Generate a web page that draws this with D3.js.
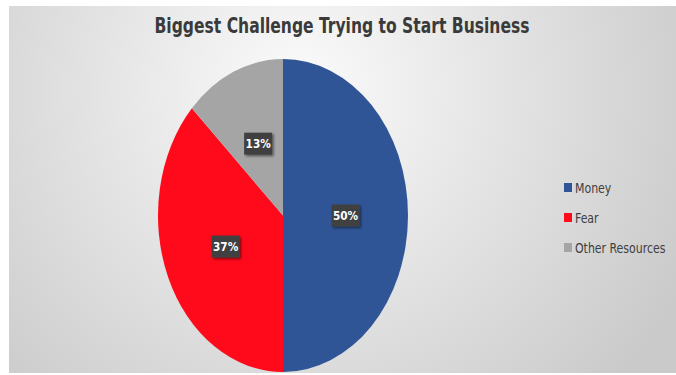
<!DOCTYPE html>
<html>
<head>
<meta charset="utf-8">
<script src="https://cdn.jsdelivr.net/npm/d3@7"></script>
<style>
  html, body { margin: 0; padding: 0; background: #fff; }
  svg { display: block; }
  text { font-stretch: condensed; }
</style>
</head>
<body>
<div id="chart"></div>
<script>
// chart data
const categories = ['Money', 'Fear', 'Other Resources'];
const values = [50, 37, 13];
const labels = ['50%', '37%', '13%'];
const colors = ['#2F5597', '#FF0A1A', '#A5A5A5'];

const W = 676, H = 375;
const font = '"DejaVu Sans", "Liberation Sans Narrow", sans-serif';

const svg = d3.select('#chart').append('svg')
  .attr('width', W)
  .attr('height', H);

const defs = svg.append('defs');
const bg = defs.append('radialGradient')
  .attr('id', 'bg')
  .attr('gradientUnits', 'userSpaceOnUse')
  .attr('cx', 300).attr('cy', 90).attr('r', 430);
bg.append('stop').attr('offset', '0%').attr('stop-color', '#fbfbfb');
bg.append('stop').attr('offset', '45%').attr('stop-color', '#e5e5e5');
bg.append('stop').attr('offset', '100%').attr('stop-color', '#cacaca');

const shadow = defs.append('filter').attr('id', 'shadow')
  .attr('x', '-30%').attr('y', '-30%').attr('width', '160%').attr('height', '160%');
shadow.append('feDropShadow')
  .attr('dx', 1.5).attr('dy', 1.5).attr('stdDeviation', 1.2)
  .attr('flood-color', '#000').attr('flood-opacity', 0.5);

// background panel (white frame on left/top as in the capture)
svg.append('rect')
  .attr('x', 9).attr('y', 6)
  .attr('width', W - 9).attr('height', H - 8)
  .attr('fill', 'url(#bg)');

// title
svg.append('text')
  .attr('x', 342).attr('y', 33)
  .attr('text-anchor', 'middle')
  .attr('font-family', font)
  .attr('font-weight', 'bold')
  .attr('font-size', 22)
  .attr('fill', '#3a3a3a')
  .attr('textLength', 375)
  .attr('lengthAdjust', 'spacingAndGlyphs')
  .text('Biggest Challenge Trying to Start Business');

// pie (drawn as ellipse)
const cx = 283, cy = 215.5, rx = 125, ry = 156.5;
const pie = d3.pie().sort(null).value(d => d);
const arcs = pie(values);
const arc = d3.arc().innerRadius(0).outerRadius(ry);

const g = svg.append('g')
  .attr('transform', `translate(${cx},${cy}) scale(${rx / ry},1)`);

g.selectAll('path')
  .data(arcs)
  .enter()
  .append('path')
  .attr('d', arc)
  .attr('fill', (d, i) => colors[i]);

// data labels
const lab = svg.append('g').attr('transform', `translate(${cx},${cy})`);
const lg = lab.selectAll('g.lbl')
  .data(arcs)
  .enter()
  .append('g')
  .attr('class', 'lbl')
  .attr('transform', d => {
    const c = arc.centroid(d);
    return `translate(${c[0] * rx / ry},${c[1]})`;
  });

lg.append('rect')
  .attr('x', -14).attr('y', -11)
  .attr('width', 28).attr('height', 22)
  .attr('fill', '#404040')
  .attr('filter', 'url(#shadow)');

lg.append('text')
  .attr('text-anchor', 'middle')
  .attr('dy', '0.36em')
  .attr('transform', 'scale(0.9,1)')
  .attr('font-family', font)
  .attr('font-weight', 'bold')
  .attr('font-size', 13)
  .attr('fill', '#fff')
  .text((d, i) => labels[i]);

// legend
const legend = svg.append('g').attr('transform', 'translate(564,188)');
const item = legend.selectAll('g')
  .data(categories)
  .enter()
  .append('g')
  .attr('transform', (d, i) => `translate(0,${i * 30})`);

item.append('rect')
  .attr('x', 0).attr('y', -5)
  .attr('width', 8).attr('height', 9)
  .attr('fill', (d, i) => colors[i]);

item.append('text')
  .attr('transform', 'translate(11,5) scale(0.87,1)')
  .attr('font-family', font)
  .attr('font-size', 14)
  .attr('fill', '#404040')
  .text(d => d);
</script>
</body>
</html>
